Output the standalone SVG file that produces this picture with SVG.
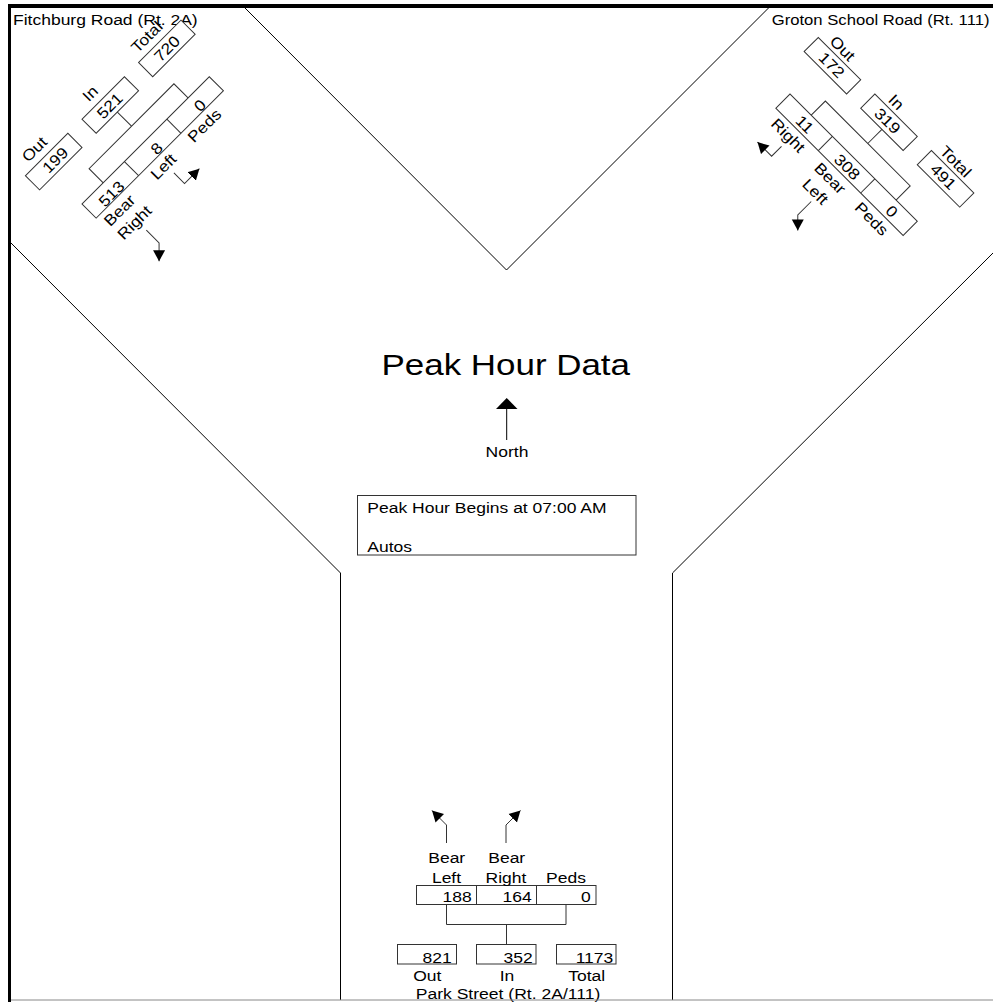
<svg xmlns="http://www.w3.org/2000/svg" width="993" height="1002" viewBox="0 0 993 1002">
<style>
  .t{font-family:"Liberation Sans",Arial,sans-serif;font-size:15.5px;fill:#000}
  .m{text-anchor:middle}
  .e{text-anchor:end}
  .ln{fill:none;stroke:#000;stroke-width:1}
  .bx{fill:#fff;stroke:#333;stroke-width:1}
  .cn{fill:none;stroke:#333;stroke-width:1}
  .ar{fill:none;stroke:#333;stroke-width:1;marker-end:url(#ah)}
</style>
<defs>
  <marker id="ah" markerUnits="userSpaceOnUse" viewBox="0 0 13 13" markerWidth="13" markerHeight="13" refX="11" refY="6.5" orient="auto">
    <path d="M0,0.5 L11,6.5 L0,12.5 Z" fill="#000"/>
  </marker>
</defs>
<rect x="0" y="0" width="993" height="1002" fill="#fff"/>

<g id="roads">
  <polyline class="ln" points="245,8 506.5,270 768.5,8"/>
  <polyline class="ln" points="11,243 340.5,573 340.5,1000"/>
  <polyline class="ln" points="996,250 672.5,573 672.5,1000"/>
</g>

<g id="street-labels">
  <text class="t" transform="translate(13,25) scale(1.13,1)">Fitchburg Road (Rt. 2A)</text>
  <text class="t" transform="translate(771.7,25) scale(1.075,1)">Groton School Road (Rt. 111)</text>
  <text class="t m" style="font-size:15px" transform="translate(508,998.6) scale(1.17,1)">Park Street (Rt. 2A/111)</text>
</g>

<g id="title">
  <text class="t" style="font-size:30px" transform="translate(381.5,375) scale(1.165,1)">Peak Hour Data</text>
</g>

<g id="north">
  <line class="ln" x1="506.7" y1="440" x2="506.7" y2="408"/>
  <polygon points="496,409 517.5,409 506.7,398" fill="#000"/>
  <text class="t m" transform="translate(507,457.3) scale(1.13,1)">North</text>
</g>

<g id="info-box">
  <rect x="357.5" y="495.5" width="278.5" height="59.5" class="bx"/>
  <text class="t" transform="translate(367.3,512.7) scale(1.13,1)">Peak Hour Begins at 07:00 AM</text>
  <text class="t" transform="translate(367.3,552.3) scale(1.13,1)">Autos</text>
</g>

<g id="approach-nw" transform="translate(82,204) rotate(-45)">
  <rect class="bx" x="0" y="0" width="180" height="20"/>
  <line class="cn" x1="60" y1="0" x2="60" y2="20"/>
  <line class="cn" x1="120" y1="0" x2="120" y2="20"/>
  <rect class="bx" x="-20" y="-60" width="60" height="20"/>
  <rect class="bx" x="60" y="-60" width="60" height="20"/>
  <rect class="bx" x="140" y="-60" width="60" height="20"/>
  <text class="t m" transform="translate(12,-44.5) scale(1.13,1)">199</text>
  <text class="t m" transform="translate(89,-44.5) scale(1.13,1)">521</text>
  <text class="t m" transform="translate(170,-44.5) scale(1.13,1)">720</text>
  <text class="t m" transform="translate(5,-67) scale(1.13,1)">Out</text>
  <text class="t m" transform="translate(84,-67) scale(1.13,1)">In</text>
  <text class="t m" transform="translate(164,-67) scale(1.13,1)">Total</text>
  <text class="t m" transform="translate(28,19) scale(1.13,1)">513</text>
  <text class="t m" transform="translate(92,19) scale(1.13,1)">8</text>
  <text class="t m" transform="translate(153,19) scale(1.13,1)">0</text>
  <text class="t m" transform="translate(22,36.5) scale(1.13,1)">Bear</text>
  <text class="t m" transform="translate(24,55.5) scale(1.13,1)">Right</text>
  <text class="t m" transform="translate(84,36.5) scale(1.13,1)">Left</text>
  <text class="t m" transform="translate(142,36.5) scale(1.13,1)">Peds</text>
</g>

<g id="approach-ne" transform="translate(790,94) rotate(45)">
  <rect class="bx" x="0" y="0" width="180" height="20"/>
  <line class="cn" x1="60" y1="0" x2="60" y2="20"/>
  <line class="cn" x1="120" y1="0" x2="120" y2="20"/>
  <rect class="bx" x="-20" y="-60" width="60" height="20"/>
  <rect class="bx" x="60" y="-60" width="60" height="20"/>
  <rect class="bx" x="140" y="-60" width="60" height="20"/>
  <text class="t m" transform="translate(9,-44.5) scale(1.13,1)">172</text>
  <text class="t m" transform="translate(88,-44.5) scale(1.13,1)">319</text>
  <text class="t m" transform="translate(167,-44.5) scale(1.13,1)">491</text>
  <text class="t m" transform="translate(5,-64) scale(1.13,1)">Out</text>
  <text class="t m" transform="translate(81,-64) scale(1.13,1)">In</text>
  <text class="t m" transform="translate(165,-64) scale(1.13,1)">Total</text>
  <text class="t m" transform="translate(32,16.5) scale(1.13,1)">11</text>
  <text class="t m" transform="translate(92,16.5) scale(1.13,1)">308</text>
  <text class="t m" transform="translate(155,16.5) scale(1.13,1)">0</text>
  <text class="t m" transform="translate(28,36) scale(1.13,1)">Right</text>
  <text class="t m" transform="translate(88,36.5) scale(1.13,1)">Bear</text>
  <text class="t m" transform="translate(87,56.5) scale(1.13,1)">Left</text>
  <text class="t m" transform="translate(146,36) scale(1.13,1)">Peds</text>
</g>

<g id="approach-s">
  <rect class="bx" x="416.5" y="885.5" width="179.5" height="19"/>
  <line class="cn" x1="476.5" y1="885.5" x2="476.5" y2="904.5"/>
  <line class="cn" x1="536.5" y1="885.5" x2="536.5" y2="904.5"/>
  <rect class="bx" x="397.5" y="944.5" width="59" height="19.5"/>
  <rect class="bx" x="476.5" y="944.5" width="59.5" height="19.5"/>
  <rect class="bx" x="556.5" y="944.5" width="59.5" height="19.5"/>
  <text class="t e" transform="translate(471.7,901.7) scale(1.13,1)">188</text>
  <text class="t e" transform="translate(531.7,901.7) scale(1.13,1)">164</text>
  <text class="t e" transform="translate(590.7,901.7) scale(1.13,1)">0</text>
  <text class="t e" transform="translate(451.7,963) scale(1.13,1)">821</text>
  <text class="t e" transform="translate(532.7,963) scale(1.13,1)">352</text>
  <text class="t e" transform="translate(613.3,963) scale(1.13,1)">1173</text>
  <text class="t m" transform="translate(427.3,981.3) scale(1.13,1)">Out</text>
  <text class="t m" transform="translate(507,981.3) scale(1.13,1)">In</text>
  <text class="t m" transform="translate(586.7,981.3) scale(1.13,1)">Total</text>
  <text class="t m" transform="translate(446.7,863.3) scale(1.13,1)">Bear</text>
  <text class="t m" transform="translate(446.5,882.7) scale(1.13,1)">Left</text>
  <text class="t m" transform="translate(506.7,863.3) scale(1.13,1)">Bear</text>
  <text class="t m" transform="translate(506,882.7) scale(1.13,1)">Right</text>
  <text class="t m" transform="translate(566,882.7) scale(1.13,1)">Peds</text>
</g>

<g id="connectors">
  <g transform="translate(82,204) rotate(-45)">
    <path class="cn" d="M30,0 V-20 H150 V0 M90,-20 V-40"/>
    <path class="ar" d="M27,64 V82 L14,95"/>
    <path class="ar" d="M87,43 V58 H108"/>
  </g>
  <g transform="translate(790,94) rotate(45)">
    <path class="cn" d="M30,0 V-20 H150 V0 M90,-20 V-40"/>
    <path class="ar" d="M31,43 V57 H11"/>
    <path class="ar" d="M91,61 V80 L102,91"/>
  </g>
  <path class="cn" d="M446.5,904.5 V924.5 H566 V904.5 M506.5,924.5 V944.5"/>
  <path class="ar" d="M446.5,843 V825 L432,810.5"/>
  <path class="ar" d="M506,843 V825 L520.5,810.5"/>
</g>

<g id="frame">
  <line x1="11" y1="1000" x2="993" y2="1000" stroke="#888" stroke-width="1"/>
  <line x1="8" y1="6" x2="993" y2="6" stroke="#000" stroke-width="4"/>
  <line x1="9.5" y1="4" x2="9.5" y2="1002" stroke="#000" stroke-width="3"/>
</g>
</svg>
